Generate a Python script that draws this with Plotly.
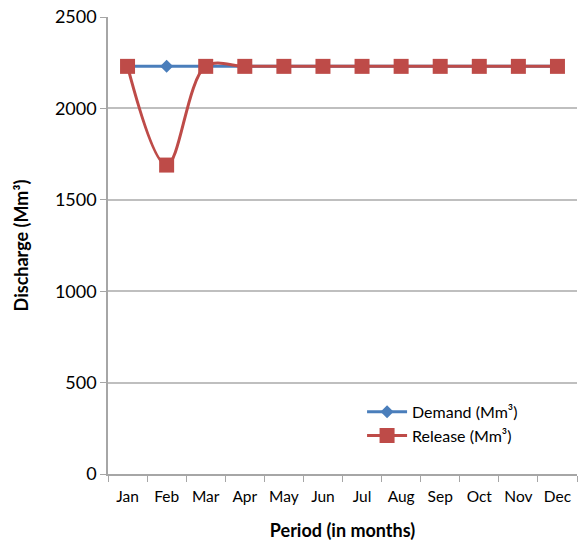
import plotly.graph_objects as go

months = ["Jan", "Feb", "Mar", "Apr", "May", "Jun", "Jul", "Aug", "Sep", "Oct", "Nov", "Dec"]
demand = [2230, 2230, 2230, 2230, 2230, 2230, 2230, 2230, 2230, 2230, 2230, 2230]
release = [2230, 1690, 2230, 2230, 2230, 2230, 2230, 2230, 2230, 2230, 2230, 2230]

FONT = "Lato"

fig = go.Figure()
fig.add_trace(go.Scatter(
    x=months, y=demand, name="Demand (Mm³)", mode="lines+markers",
    line=dict(color="#4A7EBB", width=3),
    marker=dict(symbol="diamond", size=10, color="#4A7EBB"),
))
fig.add_trace(go.Scatter(
    x=months, y=release, name="Release (Mm³)", mode="lines+markers",
    line=dict(color="#BE4B48", width=3, shape="spline", smoothing=1.0),
    marker=dict(symbol="square", size=15, color="#BE4B48"),
))

fig.update_layout(
    width=578, height=547,
    margin=dict(l=108, r=1, t=17, b=73),
    paper_bgcolor="white", plot_bgcolor="white",
    font=dict(family=FONT, size=16, color="#000000"),
    showlegend=True,
    legend=dict(x=0.885, y=0.11, xanchor="right", yanchor="middle",
                bgcolor="rgba(255,255,255,0)", font=dict(size=16, family=FONT),
                itemwidth=40, tracegroupgap=4),
    xaxis=dict(
        type="category", showgrid=False, showline=True, linecolor="#A6A6A6", linewidth=1.5,
        ticks="outside", tickson="boundaries", ticklen=6, tickcolor="#A6A6A6",
        tickangle=0, tickfont=dict(size=15.5, family=FONT), ticklabelstandoff=8,
        title=dict(text="<b>Period (in months)</b>", font=dict(size=18, family=FONT), standoff=20),
        range=[-0.5, 11.5],
    ),
    yaxis=dict(
        range=[0, 2500], dtick=500, showgrid=True, gridcolor="#BFBFBF", gridwidth=1.5,
        showline=True, linecolor="#A6A6A6", linewidth=1.5, zeroline=False,
        ticks="outside", ticklen=6, tickcolor="#A6A6A6",
        tickfont=dict(size=18, family=FONT),
        title=dict(text="<b>Discharge (Mm³)</b>", font=dict(size=18, family=FONT), standoff=22),
    ),
)

fig.write_html("out.html")
